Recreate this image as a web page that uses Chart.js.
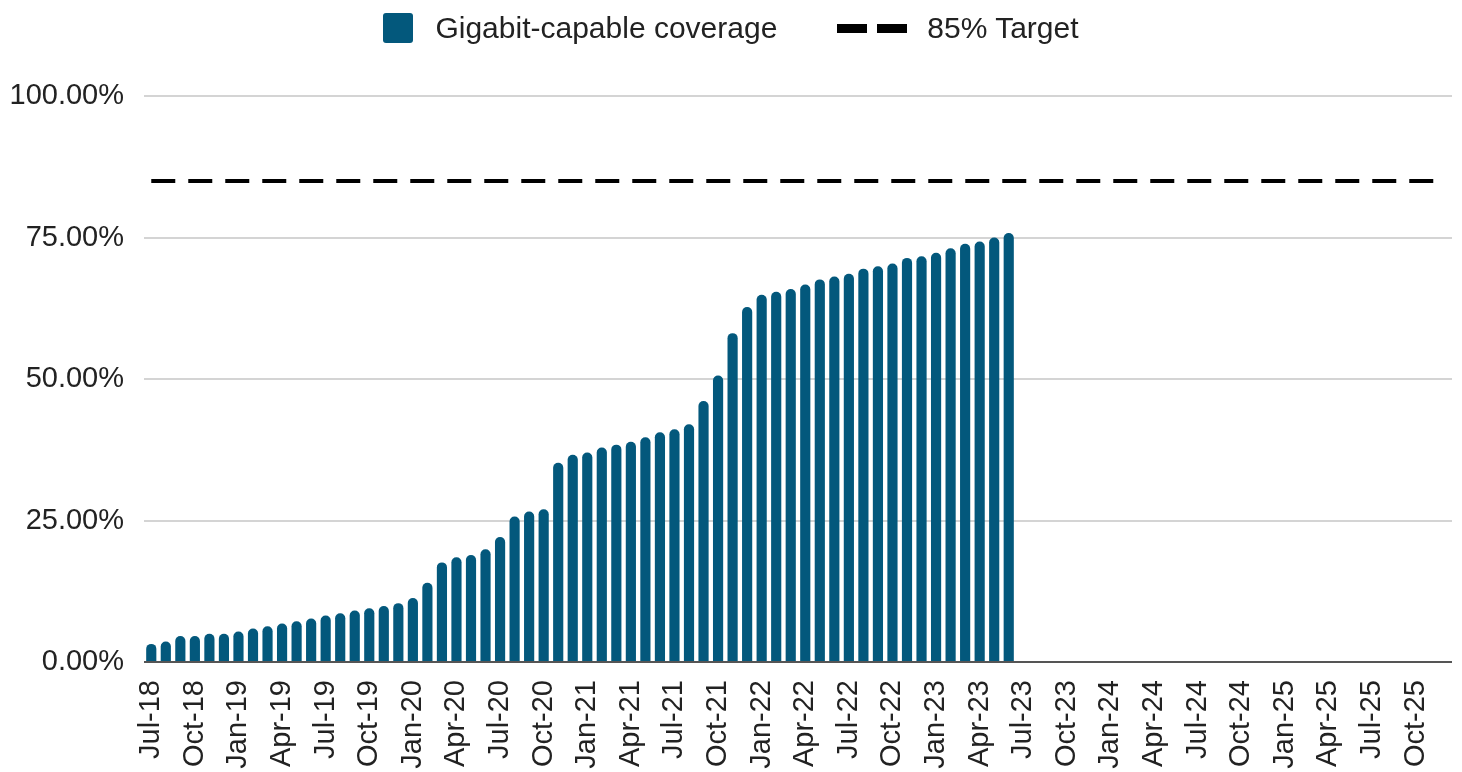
<!DOCTYPE html>
<html>
<head>
<meta charset="utf-8">
<script src="https://cdn.jsdelivr.net/npm/chart.js@4.4.0/dist/chart.umd.min.js"></script>
<style>
  html, body { margin: 0; padding: 0; background: #fff; }
  #bloco { position: relative; width: 1462px; height: 772px; }
  .grafico-legenda {
    position: absolute; top: 11px; left: 0; width: 1462px;
    display: flex; justify-content: center; align-items: center;
    font-family: "Liberation Sans", Arial, sans-serif; font-size: 30px; color: #222;
  }
  .legenda-item { display: flex; align-items: center; margin: 0 30px; }
  .legenda-cor { width: 30px; height: 30px; border-radius: 3px; margin-right: 22px; }
  .legenda-traco { display: flex; margin-right: 10px; }
  .legenda-traco span { width: 30px; height: 9px; background: #000; margin-right: 10px; }
</style>
</head>
<body>
<div id="bloco">
  <canvas id="grafico" width="1462" height="772"></canvas>
  <div class="grafico-legenda" id="legenda"></div>
</div>
<script>
// months on the x axis (monthly, Jul-18 .. Dec-25)
const months = [
  "Jul-18", "Aug-18", "Sep-18", "Oct-18", "Nov-18", "Dec-18",
  "Jan-19", "Feb-19", "Mar-19", "Apr-19", "May-19", "Jun-19",
  "Jul-19", "Aug-19", "Sep-19", "Oct-19", "Nov-19", "Dec-19",
  "Jan-20", "Feb-20", "Mar-20", "Apr-20", "May-20", "Jun-20",
  "Jul-20", "Aug-20", "Sep-20", "Oct-20", "Nov-20", "Dec-20",
  "Jan-21", "Feb-21", "Mar-21", "Apr-21", "May-21", "Jun-21",
  "Jul-21", "Aug-21", "Sep-21", "Oct-21", "Nov-21", "Dec-21",
  "Jan-22", "Feb-22", "Mar-22", "Apr-22", "May-22", "Jun-22",
  "Jul-22", "Aug-22", "Sep-22", "Oct-22", "Nov-22", "Dec-22",
  "Jan-23", "Feb-23", "Mar-23", "Apr-23", "May-23", "Jun-23",
  "Jul-23", "Aug-23", "Sep-23", "Oct-23", "Nov-23", "Dec-23",
  "Jan-24", "Feb-24", "Mar-24", "Apr-24", "May-24", "Jun-24",
  "Jul-24", "Aug-24", "Sep-24", "Oct-24", "Nov-24", "Dec-24",
  "Jan-25", "Feb-25", "Mar-25", "Apr-25", "May-25", "Jun-25",
  "Jul-25", "Aug-25", "Sep-25", "Oct-25", "Nov-25", "Dec-25",
];

// gigabit-capable coverage (%), Jul-18 .. Jun-23
const coverage = [
  3.2, 3.6, 4.6, 4.6, 5.0, 5.0,
  5.4, 5.9, 6.3, 6.8, 7.2, 7.7,
  8.2, 8.6, 9.1, 9.5, 9.9, 10.4,
  11.3, 14.0, 17.6, 18.5, 18.9, 19.9,
  22.1, 25.7, 26.6, 27.0, 35.2, 36.6,
  37.0, 37.9, 38.4, 38.9, 39.7, 40.6,
  41.1, 42.0, 46.1, 50.6, 58.1, 62.7,
  64.9, 65.4, 65.9, 66.7, 67.6, 68.1,
  68.6, 69.5, 69.9, 70.4, 71.4, 71.7,
  72.3, 73.1, 73.9, 74.3, 75.0, 75.8,
];

// 85% target, drawn across the whole period
const target = [
  { x: "Jul-18", y: 85 },
  { x: "Dec-25", y: 85 },
];

const yTicks = [0, 25, 50, 75, 100];

const corBarra = "#03587c";
const fonte = "'Liberation Sans', Arial, sans-serif";

new Chart(document.getElementById("grafico").getContext("2d"), {
  data: {
    labels: months,
    datasets: [
      {
        type: "line",
        label: "85% Target",
        data: target,
        borderColor: "#000",
        borderWidth: 4,
        borderDash: [24, 13],
        pointRadius: 0,
        fill: false,
        order: 0,
      },
      {
        type: "bar",
        label: "Gigabit-capable coverage",
        data: coverage,
        backgroundColor: corBarra,
        borderRadius: { topLeft: 5, topRight: 5, bottomLeft: 0, bottomRight: 0 },
        borderSkipped: "start",
        barPercentage: 0.7,
        categoryPercentage: 1.0,
        order: 1,
      },
    ],
  },
  options: {
    responsive: false,
    animation: false,
    layout: { padding: { left: 0, right: 10, top: 96, bottom: 0 } },
    plugins: {
      legend: { display: false },
      tooltip: { enabled: false },
    },
    scales: {
      x: {
        grid: { display: false, drawTicks: false },
        border: { display: false },
        afterFit: (s) => {
          // keep the plot flush with the y labels and fix the label band height
          s.paddingLeft = 0;
          s.paddingRight = 0;
          s.height = 110;
        },
        ticks: {
          autoSkip: false,
          maxRotation: 90,
          minRotation: 90,
          padding: 18,
          color: "#222",
          font: { family: fonte, size: 29 },
          // only every third month gets a label
          callback: (v, i) => (i % 3 === 0 ? months[i] : ""),
        },
      },
      y: {
        min: 0,
        max: 100,
        afterBuildTicks: (axis) => {
          axis.ticks = yTicks.map((v) => ({ value: v }));
        },
        afterFit: (s) => {
          s.width = 144;
        },
        grid: {
          drawTicks: false,
          lineWidth: 2,
          color: (c) => (c.tick && c.tick.value === 0 ? "#555" : "#d4d4d4"),
        },
        border: { display: false },
        ticks: {
          padding: 20,
          color: "#222",
          font: { family: fonte, size: 29 },
          callback: (v) => v.toFixed(2) + "%",
        },
      },
    },
  },
});

// Legenda customizada
const legenda = document.getElementById("legenda");
legenda.innerHTML =
  `<div class="legenda-item"><span class="legenda-cor" style="background:${corBarra}"></span>Gigabit-capable coverage</div>` +
  `<div class="legenda-item"><span class="legenda-traco"><span></span><span></span></span>85% Target</div>`;
</script>
</body>
</html>
